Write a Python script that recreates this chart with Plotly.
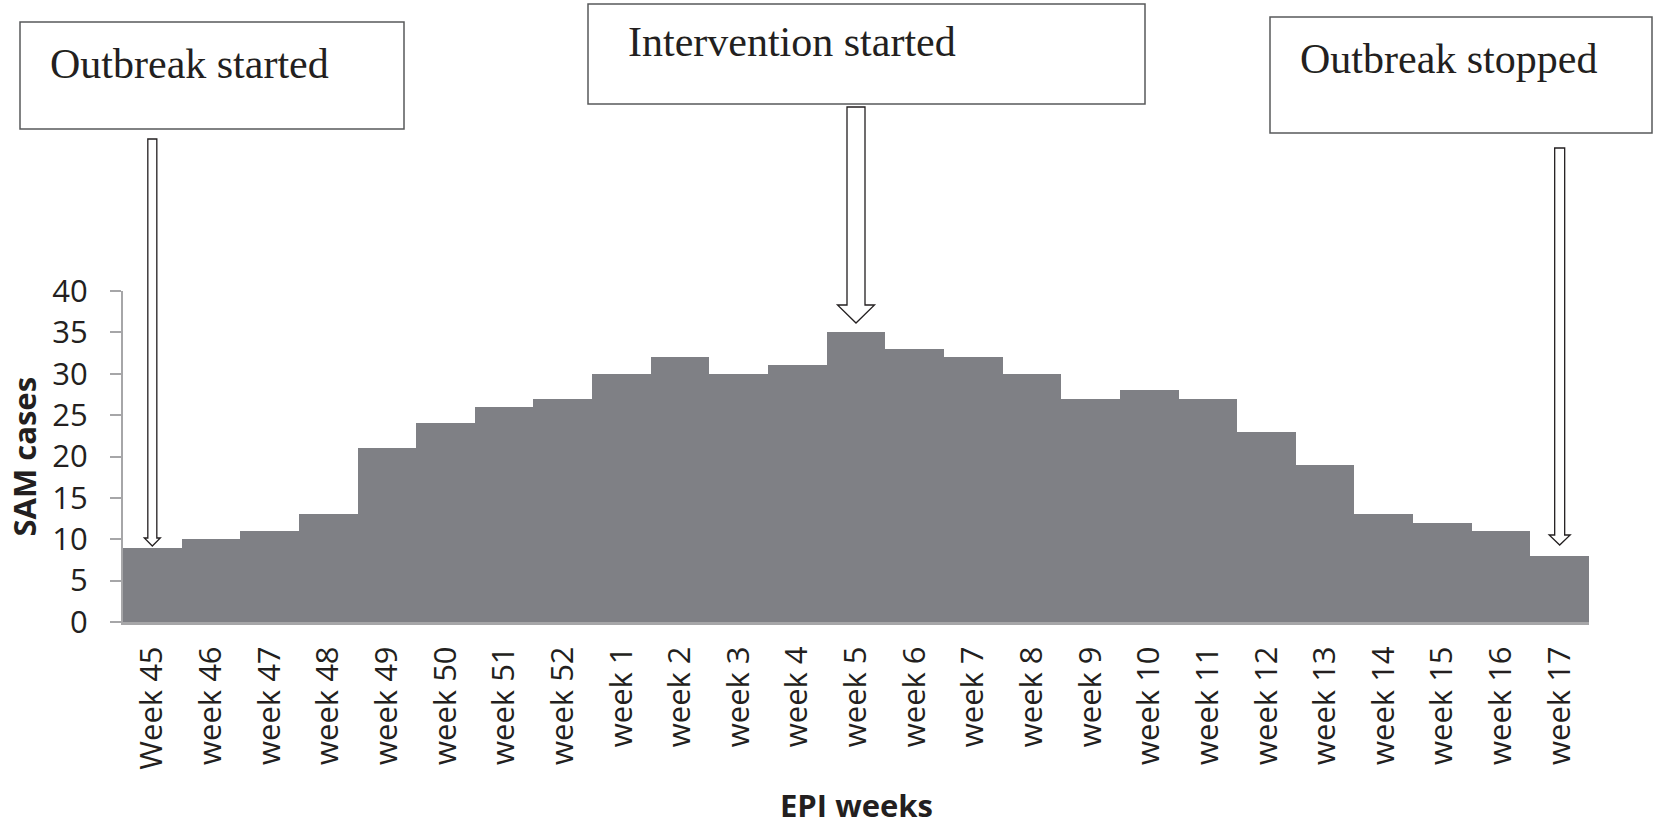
import plotly.graph_objects as go

weeks = ["Week 45", "week 46", "week 47", "week 48", "week 49", "week 50", "week 51", "week 52",
         "week 1", "week 2", "week 3", "week 4", "week 5", "week 6", "week 7", "week 8",
         "week 9", "week 10", "week 11", "week 12", "week 13", "week 14", "week 15", "week 16", "week 17"]
sam_cases = [9, 10, 11, 13, 21, 24, 26, 27, 30, 32, 30, 31, 35, 33, 32, 30, 27, 28, 27, 23, 19, 13, 12, 11, 8]

event_labels = ["Outbreak started", "Intervention started", "Outbreak stopped"]
event_weeks = ["Week 45", "week 5", "week 17"]

W, H = 1654, 829
L, T = 123, 291
R = W - 1589
B = H - 622
PW, PH = W - L - R, H - T - B
YMAX = 40

def fx(px):  # pixel -> paper x
    return (px - L) / PW

def fy(py):  # pixel -> paper y
    return (H - B - py) / PH

fig = go.Figure()
fig.add_trace(go.Bar(x=weeks, y=sam_cases, marker=dict(color="#7f8085", line=dict(width=0)),
                     width=1.0, showlegend=False, hoverinfo="x+y"))

boxes = [
    dict(x0=20, x1=404, y0=22, y1=129, tx=48, ty=64),
    dict(x0=588, x1=1145, y0=4, y1=104, tx=626, ty=42),
    dict(x0=1270, x1=1652, y0=17, y1=133, tx=1298, ty=59),
]
arrows = [
    dict(top=139, sw=4.5, hw=8, base=538, tip=546),
    dict(top=107, sw=9, hw=18.5, base=305, tip=323),
    dict(top=148, sw=5, hw=10.5, base=535, tip=545),
]

shapes = []
annotations = []
for lab, wk, b, a in zip(event_labels, event_weeks, boxes, arrows):
    shapes.append(dict(type="rect", xref="paper", yref="paper",
                       x0=fx(b["x0"]), x1=fx(b["x1"]), y0=fy(b["y1"]), y1=fy(b["y0"]),
                       line=dict(color="#58595b", width=1.5), fillcolor="white", layer="above"))
    annotations.append(dict(text=lab, xref="paper", yref="paper", x=fx(b["tx"]), y=fy(b["ty"]),
                            xanchor="left", yanchor="middle", showarrow=False,
                            font=dict(family="Liberation Serif", size=42, color="#231f20")))
    idx = weeks.index(wk)
    cx = (idx + 0.5) / len(weeks)
    sw = a["sw"] / PW
    hw = a["hw"] / PW
    path = (f"M {cx - sw},{fy(a['top'])} L {cx + sw},{fy(a['top'])} "
            f"L {cx + sw},{fy(a['base'])} L {cx + hw},{fy(a['base'])} "
            f"L {cx},{fy(a['tip'])} L {cx - hw},{fy(a['base'])} "
            f"L {cx - sw},{fy(a['base'])} Z")
    shapes.append(dict(type="path", xref="paper", yref="paper", path=path,
                       line=dict(color="#231f20", width=1.3), fillcolor="white", layer="above"))

annotations.append(dict(text="<b>SAM cases</b>", xref="paper", yref="paper", x=fx(23), y=0.5,
                        xanchor="center", yanchor="middle", textangle=-90, showarrow=False,
                        font=dict(family="Open Sans", size=31, color="#231f20")))
annotations.append(dict(text="<b>EPI weeks</b>", xref="paper", yref="paper", x=0.5, y=fy(805),
                        xanchor="center", yanchor="middle", showarrow=False,
                        font=dict(family="Open Sans", size=31, color="#231f20")))

fig.update_layout(
    width=W, height=H,
    margin=dict(l=L, r=R, t=T, b=B, pad=0),
    plot_bgcolor="white", paper_bgcolor="white",
    bargap=0,
    shapes=shapes, annotations=annotations,
    font=dict(family="Open Sans", color="#231f20"),
    xaxis=dict(
        showline=True, linecolor="#a6a6a8", linewidth=3, ticks="", showgrid=False,
        tickangle=-90, tickfont=dict(family="Open Sans", size=31, color="#231f20"),
        ticklabelstandoff=9,
        range=[-0.5, len(weeks) - 0.5], fixedrange=True,
    ),
    yaxis=dict(
        range=[0, YMAX], dtick=5, showline=True, linecolor="#a6a6a8", linewidth=2,
        ticks="outside", ticklen=11, tickcolor="#a6a6a8", tickwidth=2, showgrid=False, zeroline=False,
        tickfont=dict(family="Open Sans", size=31, color="#231f20"),
        ticklabelstandoff=16,
        fixedrange=True,
    ),
)

fig.write_html("out.html", config={"displayModeBar": False},
               post_script="document.body.style.margin='0';document.body.style.overflow='hidden';")
